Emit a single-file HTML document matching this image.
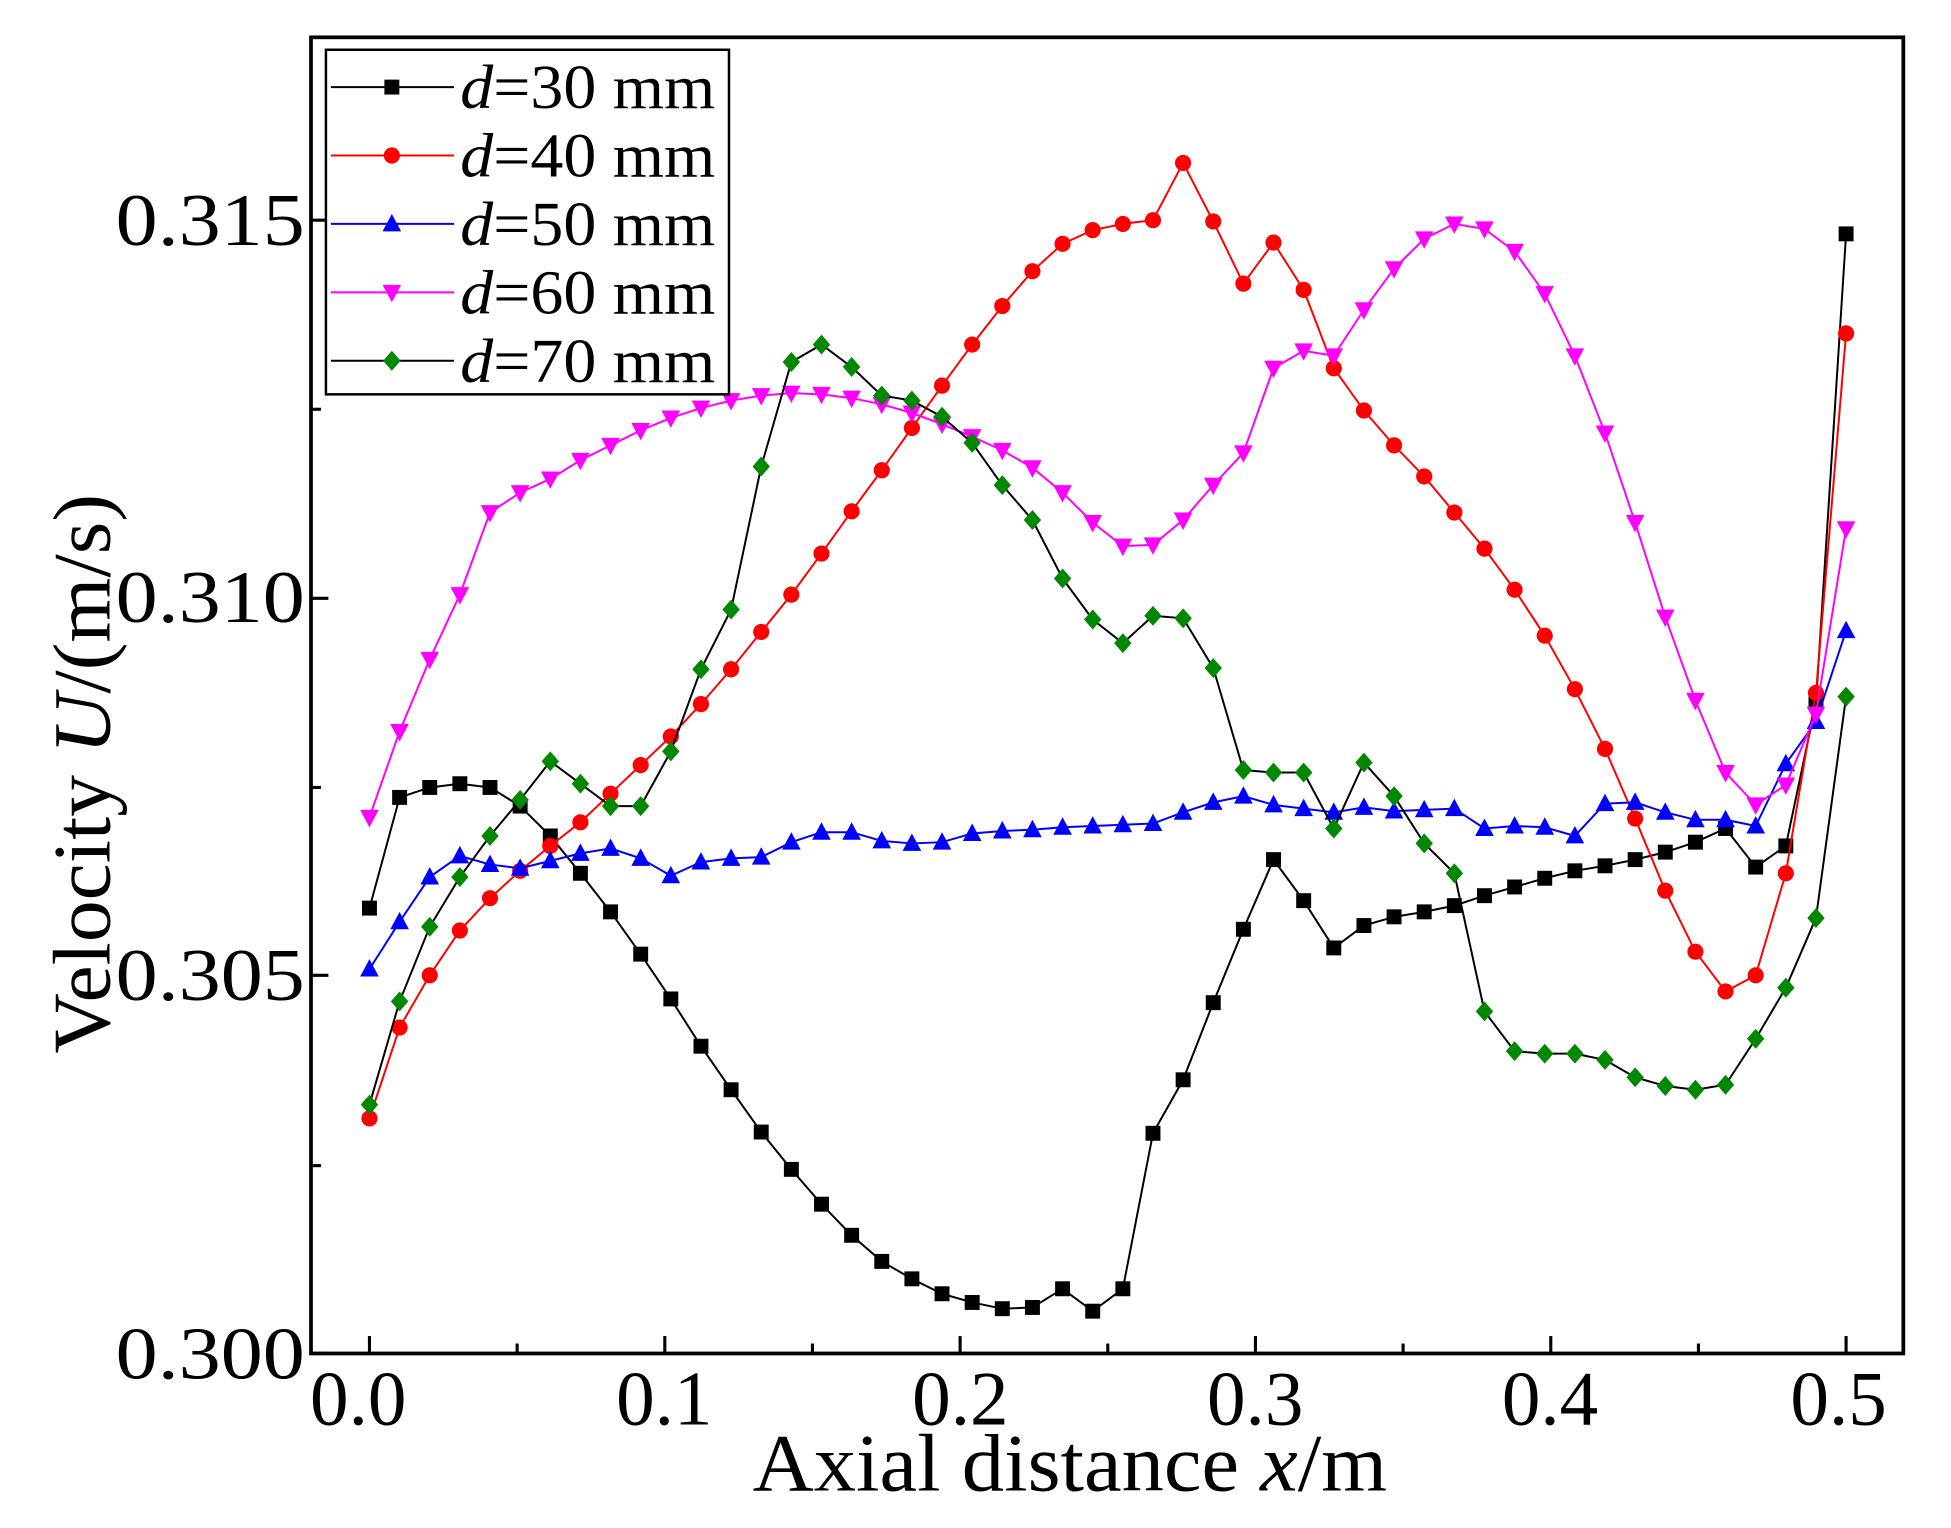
<!DOCTYPE html>
<html><head><meta charset="utf-8"><style>
html,body{margin:0;padding:0;background:#fff;}
svg{display:block;}
text{font-family:"Liberation Serif",serif;fill:#000;}
</style></head><body>
<svg id="s" width="1951" height="1528" viewBox="0 0 1951 1528" xmlns="http://www.w3.org/2000/svg">
<g id="g" transform="scale(1.244)">
<rect x="250" y="30" width="1280" height="1058" fill="none" stroke="#000" stroke-width="3"/>
<g font-size="60" text-anchor="end">
<text x="245" y="1108" textLength="152" lengthAdjust="spacingAndGlyphs" transform="translate(0,0)">0.300</text>
<text x="245" y="804" textLength="152" lengthAdjust="spacingAndGlyphs">0.305</text>
<text x="245" y="500" textLength="152" lengthAdjust="spacingAndGlyphs">0.310</text>
<text x="245" y="197" textLength="152" lengthAdjust="spacingAndGlyphs">0.315</text>
</g>
<g font-size="62" text-anchor="middle">
<text x="288" y="1145">0.0</text>
<text x="534" y="1145">0.1</text>
<text x="772" y="1145">0.2</text>
<text x="1009" y="1145">0.3</text>
<text x="1246" y="1145">0.4</text>
<text x="1478" y="1145">0.5</text>
</g>
<text x="860" y="1198" font-size="66" text-anchor="middle" textLength="510" lengthAdjust="spacingAndGlyphs">Axial distance <tspan font-style="italic">x</tspan>/m</text>
<text transform="translate(88,622) rotate(-90)" font-size="66" text-anchor="middle" textLength="450" lengthAdjust="spacingAndGlyphs">Velocity  <tspan font-style="italic">U</tspan>/(m/s)</text>
<g id="ticks" stroke="#000" stroke-width="2.5"></g>
<g id="series"></g>
<rect x="262" y="40" width="324" height="277" fill="#fff" stroke="#000" stroke-width="2"/>
<g id="legend"></g>
</g>
</svg>
<script>
var NS="http://www.w3.org/2000/svg";
function el(p,t,a){var e=document.createElementNS(NS,t);for(var k in a)e.setAttribute(k,a[k]);p.appendChild(e);return e;}
var tk=document.getElementById('ticks');
for(var i=0;i<=10;i++){var x=297+i*118.7;var L=(i%2==0)?14:8;
el(tk,'line',{x1:x,y1:1088,x2:x,y2:1088-L});}
var ys=[1088,937,784,633,481,329,177];
ys.forEach(function(y,i){var L=(i%2==0)?14:8;el(tk,'line',{x1:250,y1:y,x2:250+L,y2:y});});
var S=[
{c:'#000',m:'#000',mk:'sq',d:[730,641,633,630,633,648,672,702,733,767,803,841,876,910,940,968,993,1014,1028,1040,1047,1052,1051,1036,1054,1036,911,868,806,747,691,724,762,744,737,733,728,720,713,706,700,696,691,685,677,666,697,680,565,188]},
{c:'#f00',m:'#f00',mk:'ci',d:[899,826,784,748,722,700,680,661,638,615,592,566,538,508,478,445,411,378,344,310,277,246,218,196,185,180,177,131,178,228,195,233,296,330,358,383,412,441,474,511,554,602,658,716,765,797,784,702,557,268]},
{c:'#00f',m:'#00f',mk:'tu',d:[779,741,705,688,695,698,692,686,682,690,704,693,690,689,677,669,669,676,678,677,670,668,667,665,664,663,662,653,645,640,647,650,653,649,652,651,650,666,664,665,672,646,645,653,659,659,664,614,580,507]},
{c:'#f0f',m:'#f0f',mk:'td',d:[657,588,530,478,412,396,385,370,358,346,336,328,322,318,316,317,320,325,332,341,351,362,376,396,420,439,438,418,390,364,296,282,286,249,216,192,180,184,202,236,286,348,420,496,563,621,647,631,574,425]},
{c:'#000',m:'#080',mk:'di',d:[888,805,745,705,672,643,612,630,648,648,604,538,490,375,291,277,295,318,322,335,356,390,418,465,498,517,495,497,537,619,621,621,666,613,640,678,702,813,845,847,847,852,866,873,876,872,835,794,738,560]}
];
function mark(p,t,x,y,col){
 if(t=='sq')el(p,'rect',{x:x-6,y:y-6,width:12,height:12,fill:col});
 else if(t=='ci')el(p,'circle',{cx:x,cy:y,r:6.5,fill:col});
 else if(t=='tu')el(p,'polygon',{points:(x)+','+(y-8)+' '+(x-7.5)+','+(y+6)+' '+(x+7.5)+','+(y+6),fill:col});
 else if(t=='td')el(p,'polygon',{points:(x)+','+(y+8)+' '+(x-7.5)+','+(y-6)+' '+(x+7.5)+','+(y-6),fill:col});
 else el(p,'polygon',{points:x+','+(y-8)+' '+(x+7)+','+y+' '+x+','+(y+8)+' '+(x-7)+','+y,fill:col});
}
var sg=document.getElementById('series');
S.forEach(function(s){var pts=s.d.map(function(y,i){return [297+i*1187/49,y];});
 el(sg,'polyline',{points:pts.map(function(p){return p.join(',')}).join(' '),fill:'none',stroke:s.c,'stroke-width':1.6});
 pts.forEach(function(p){mark(sg,s.mk,p[0],p[1],s.m);});});
var lg=document.getElementById('legend');var labs=['30','40','50','60','70'];
S.forEach(function(s,i){var y=70+i*55;
 el(lg,'line',{x1:266,y1:y,x2:365,y2:y,stroke:s.c,'stroke-width':1.6});
 mark(lg,s.mk,315,y,s.m);
 var t=el(lg,'text',{x:370,y:y+17,'font-size':50,textLength:205,lengthAdjust:'spacingAndGlyphs'});
 var a=el(t,'tspan',{'font-style':'italic'});a.textContent='d';
 var b=el(t,'tspan',{});b.textContent='='+labs[i]+' mm';});
</script>
</body></html>
